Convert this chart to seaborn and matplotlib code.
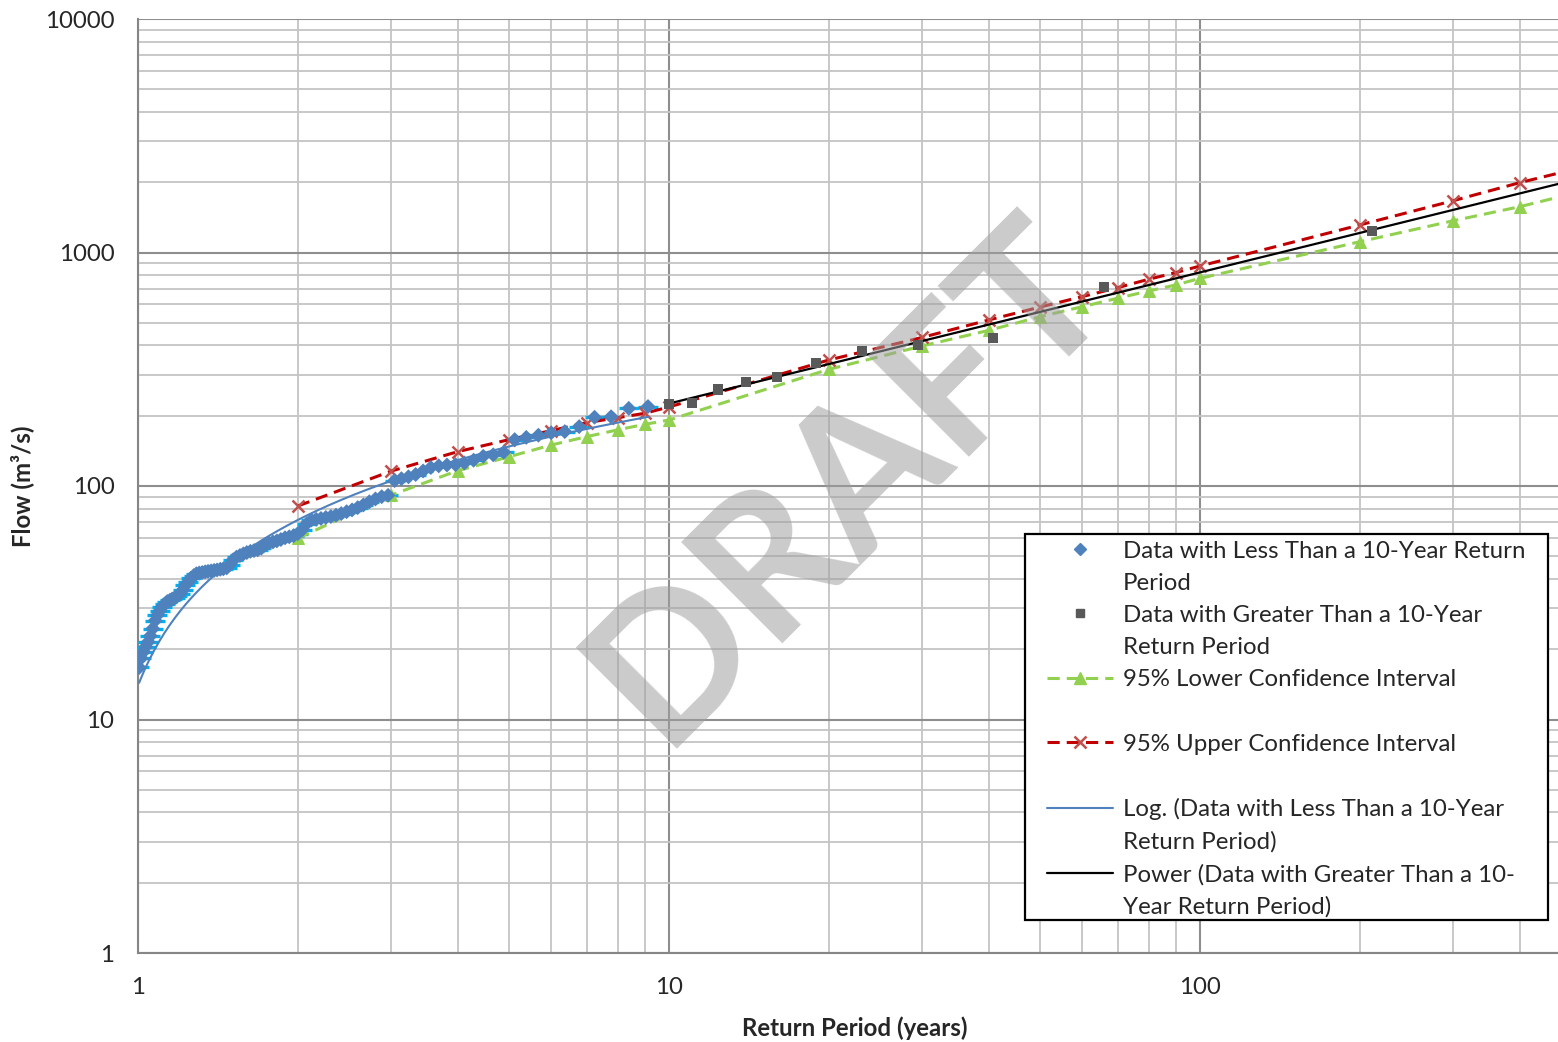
import numpy as np
import pandas as pd
import matplotlib
matplotlib.use("Agg")
import matplotlib.pyplot as plt
from matplotlib.lines import Line2D
from matplotlib.patches import Rectangle
from matplotlib.ticker import LogLocator, FuncFormatter, NullFormatter
import seaborn as sns

# Observed peak flows with return periods below 10 years (years, m3/s)
short_period = [
    1.005, 1.014, 1.024, 1.034, 1.045, 1.055, 1.066, 1.077, 1.088, 1.099,
    1.111, 1.123, 1.135, 1.148, 1.160, 1.173, 1.186, 1.200, 1.214, 1.228,
    1.243, 1.257, 1.273, 1.288, 1.304, 1.321, 1.338, 1.355, 1.373, 1.391,
    1.409, 1.429, 1.448, 1.469, 1.489, 1.511, 1.533, 1.556, 1.579, 1.603,
    1.628, 1.654, 1.680, 1.707, 1.736, 1.765, 1.795, 1.826, 1.858, 1.892,
    1.927, 1.963, 2.000, 2.039, 2.079, 2.121, 2.165, 2.211, 2.258, 2.308,
    2.360, 2.414, 2.471, 2.530, 2.593, 2.658, 2.727, 2.800, 2.877, 2.958,
    3.043, 3.134, 3.231, 3.333, 3.443, 3.559, 3.684, 3.818, 3.962, 4.118,
    4.286, 4.468, 4.667, 4.884, 5.122, 5.385, 5.676, 6.000, 6.364, 6.774,
    7.241, 7.778, 8.400, 9.130,
]
short_flow = [
    16.7, 18.3, 19.5, 20.5, 21.5, 22.8, 24.5, 26.5, 28.0, 29.2,
    30.4, 31.2, 32.0, 32.4, 32.8, 33.2, 33.8, 34.6, 35.8, 37.5,
    38.8, 40.2, 41.3, 42.1, 42.4, 42.6, 42.9, 43.1, 43.3, 43.5,
    43.7, 44.0, 44.2, 44.6, 46.0, 48.3, 49.6, 50.4, 51.2, 51.9,
    52.5, 52.9, 53.3, 54.2, 56.0, 57.0, 57.6, 58.2, 59.0, 60.0,
    60.6, 61.2, 62.5, 65.0, 69.0, 71.5, 72.0, 72.6, 73.3, 74.0,
    75.0, 76.2, 77.6, 79.0, 80.8, 83.0, 85.6, 88.0, 90.0, 91.2,
    105.5, 107.5, 109.5, 112.0, 116.0, 120.0, 122.0, 123.0, 123.5, 125.5,
    129.0, 134.0, 136.0, 139.5, 158.0, 161.5, 165.0, 169.0, 171.0, 179.6,
    197.0, 198.0, 215.0, 219.0,
]

# Observed peak flows with return periods of 10 years and more
long_period = [10.0, 11.03, 12.38, 13.96, 16.0, 18.92, 23.06, 29.48, 40.7, 65.9, 210.7]
long_flow = [224, 227.5, 259, 280, 294, 336, 377, 402, 432, 713, 1240]

# 95% confidence bounds of the frequency estimate
ci_period = [2, 3, 4, 5, 6, 7, 8, 9, 10, 20, 30, 40, 50, 60, 70, 80, 90, 100, 200, 300, 400, 500]
ci_lower = [59.7, 91.5, 116.3, 133.5, 149.8, 162.7, 173.9, 183.7, 191.7, 316, 398, 464,
            531, 586, 637, 684, 726, 775, 1112, 1368, 1571, 1780]
ci_upper = [82.1, 115.9, 140.3, 158.0, 172.6, 186.8, 196.0, 204.8, 218.0, 346.5, 433, 514,
            584, 647, 707, 768, 820, 875, 1312, 1667, 1991, 2255]

x_ticks = [1, 10, 100]
y_ticks = [1, 10, 100, 1000, 10000]

BLUE = "#4f81bd"
CYAN = "#00b0f0"
GREY = "#595959"
GREEN = "#92d050"
RED_LINE = "#c00000"
RED_MARK = "#c0504d"

sns.set_style("white")
plt.rcParams["font.family"] = ["Lato", "DejaVu Sans"]
FS = 17.3

fig = plt.figure(figsize=(15.58, 10.42), dpi=100)
ax = fig.add_axes([138 / 1558, 1 - 953 / 1042, 1 - 138 / 1558, (953 - 19) / 1042])
ax.set_xscale("log")
ax.set_yscale("log")

# trend lines fitted to the observations
log_a, log_b = np.polyfit(np.log(short_period), short_flow, 1)
log_x = np.geomspace(min(short_period), max(short_period), 200)
log_y = log_a * np.log(log_x) + log_b

pow_b, pow_ln_a = np.polyfit(np.log(long_period), np.log(long_flow), 1)
pow_x = np.geomspace(min(long_period), 500, 200)
pow_y = np.exp(pow_ln_a) * pow_x ** pow_b

df_short = pd.DataFrame({"period": short_period, "flow": short_flow})
df_long = pd.DataFrame({"period": long_period, "flow": long_flow})
df_ci = pd.DataFrame({"period": ci_period, "lower": ci_lower, "upper": ci_upper})

# plotting-position ticks under the diamonds
ax.plot(df_short["period"], df_short["flow"], ls="none", marker="_", ms=14, mew=2.4,
        color=CYAN, zorder=3)
sns.scatterplot(data=df_short, x="period", y="flow", marker="D", s=58, color=BLUE,
                edgecolor="none", ax=ax, zorder=4, legend=False)
sns.scatterplot(data=df_long, x="period", y="flow", marker="s", s=52, color=GREY,
                edgecolor="none", ax=ax, zorder=4, legend=False)

sns.lineplot(data=df_ci, x="period", y="lower", ax=ax, color=GREEN, lw=2.2,
             marker="^", markersize=9, markerfacecolor=GREEN, markeredgecolor=GREEN,
             zorder=3, legend=False)
ax.lines[-1].set_dashes([4, 2.3])
sns.lineplot(data=df_ci, x="period", y="upper", ax=ax, color=RED_LINE, lw=2.2,
             marker="x", markersize=8, markeredgecolor=RED_MARK, markeredgewidth=1.8,
             zorder=3, legend=False)
ax.lines[-1].set_dashes([4, 2.3])

sns.lineplot(x=log_x, y=log_y, ax=ax, color=BLUE, lw=1.5, zorder=3.5)
sns.lineplot(x=pow_x, y=pow_y, ax=ax, color="black", lw=1.6, zorder=3.5)

ax.set_xlim(1, 10 ** ((1558 - 138) / 531))
ax.set_ylim(1, 10000)

ax.xaxis.set_major_locator(LogLocator(base=10))
ax.yaxis.set_major_locator(LogLocator(base=10))
ax.xaxis.set_minor_locator(LogLocator(base=10, subs=np.arange(2, 10)))
ax.yaxis.set_minor_locator(LogLocator(base=10, subs=np.arange(2, 10)))
ax.set_xticks(x_ticks)
ax.set_yticks(y_ticks)
fmt = FuncFormatter(lambda v, _: f"{v:g}")
ax.xaxis.set_major_formatter(fmt)
ax.yaxis.set_major_formatter(fmt)
ax.xaxis.set_minor_formatter(NullFormatter())
ax.yaxis.set_minor_formatter(NullFormatter())

ax.grid(True, which="major", color="#8e8e8e", lw=1.5, zorder=0)
ax.grid(True, which="minor", color="#c4c4c4", lw=1.3, zorder=0)
ax.set_axisbelow(True)

for side in ("top", "right"):
    ax.spines[side].set_visible(False)
for side in ("left", "bottom"):
    ax.spines[side].set_color("#868686")
    ax.spines[side].set_linewidth(1.5)

ax.tick_params(which="major", direction="out", length=5, width=1.3, color="#868686",
               labelsize=FS, pad=12)
ax.tick_params(which="minor", length=0)

ax.set_xlabel("Return Period (years)", fontsize=FS, fontweight="bold")
ax.set_ylabel("Flow (m³/s)", fontsize=FS, fontweight="bold")
ax.xaxis.set_label_coords(0.505, -0.0675)
ax.yaxis.set_label_coords(-0.0735, 0.5)

# watermark
ax.text(0.500, 0.505, "DRAFT", transform=ax.transAxes, rotation=45,
        ha="center", va="center", rotation_mode="anchor",
        fontsize=142, fontweight="bold", color="#a0a0a0", alpha=0.55, zorder=6)

# legend frame and entries
fig.add_artist(Rectangle((1025 / 1558, 1 - 920 / 1042), (1548 - 1025) / 1558, (920 - 534) / 1042,
                         transform=fig.transFigure, facecolor="white", edgecolor="black",
                         lw=1.6, zorder=5))

h_short = Line2D([], [], ls="none", marker="D", ms=6, color=BLUE)
h_long = Line2D([], [], ls="none", marker="s", ms=6, color=GREY)
h_low = Line2D([], [], color=GREEN, lw=2.2, ls="--", dashes=[4, 2.3], marker="^", ms=9,
               markerfacecolor=GREEN, markeredgecolor=GREEN)
h_up = Line2D([], [], color=RED_LINE, lw=2.2, ls="--", dashes=[4, 2.3], marker="x", ms=8,
              markeredgecolor=RED_MARK, markeredgewidth=1.8)
h_log = Line2D([], [], color=BLUE, lw=1.5)
h_pow = Line2D([], [], color="black", lw=1.6)
blank = Line2D([], [], ls="none")

handles = [h_short, blank, h_long, blank, h_low, blank, h_up, blank, h_log, blank, h_pow, blank]
labels = [
    "Data with Less Than a 10-Year Return", "Period",
    "Data with Greater Than a 10-Year", "Return Period",
    "95% Lower Confidence Interval", " ",
    "95% Upper Confidence Interval", " ",
    "Log. (Data with Less Than a 10-Year", "Return Period)",
    "Power (Data with Greater Than a 10-", "Year Return Period)",
]
fs_px = FS * 100 / 72
leg = fig.legend(handles, labels, loc="upper left",
                 bbox_to_anchor=(1047 / 1558, 1 - 540.5 / 1042), bbox_transform=fig.transFigure,
                 frameon=False, fontsize=FS, borderpad=0, borderaxespad=0,
                 handlelength=66 / fs_px, handletextpad=10 / fs_px, labelspacing=0.465,
                 numpoints=1)
leg.set_zorder(6)

fig.savefig("out.png", dpi=100)
